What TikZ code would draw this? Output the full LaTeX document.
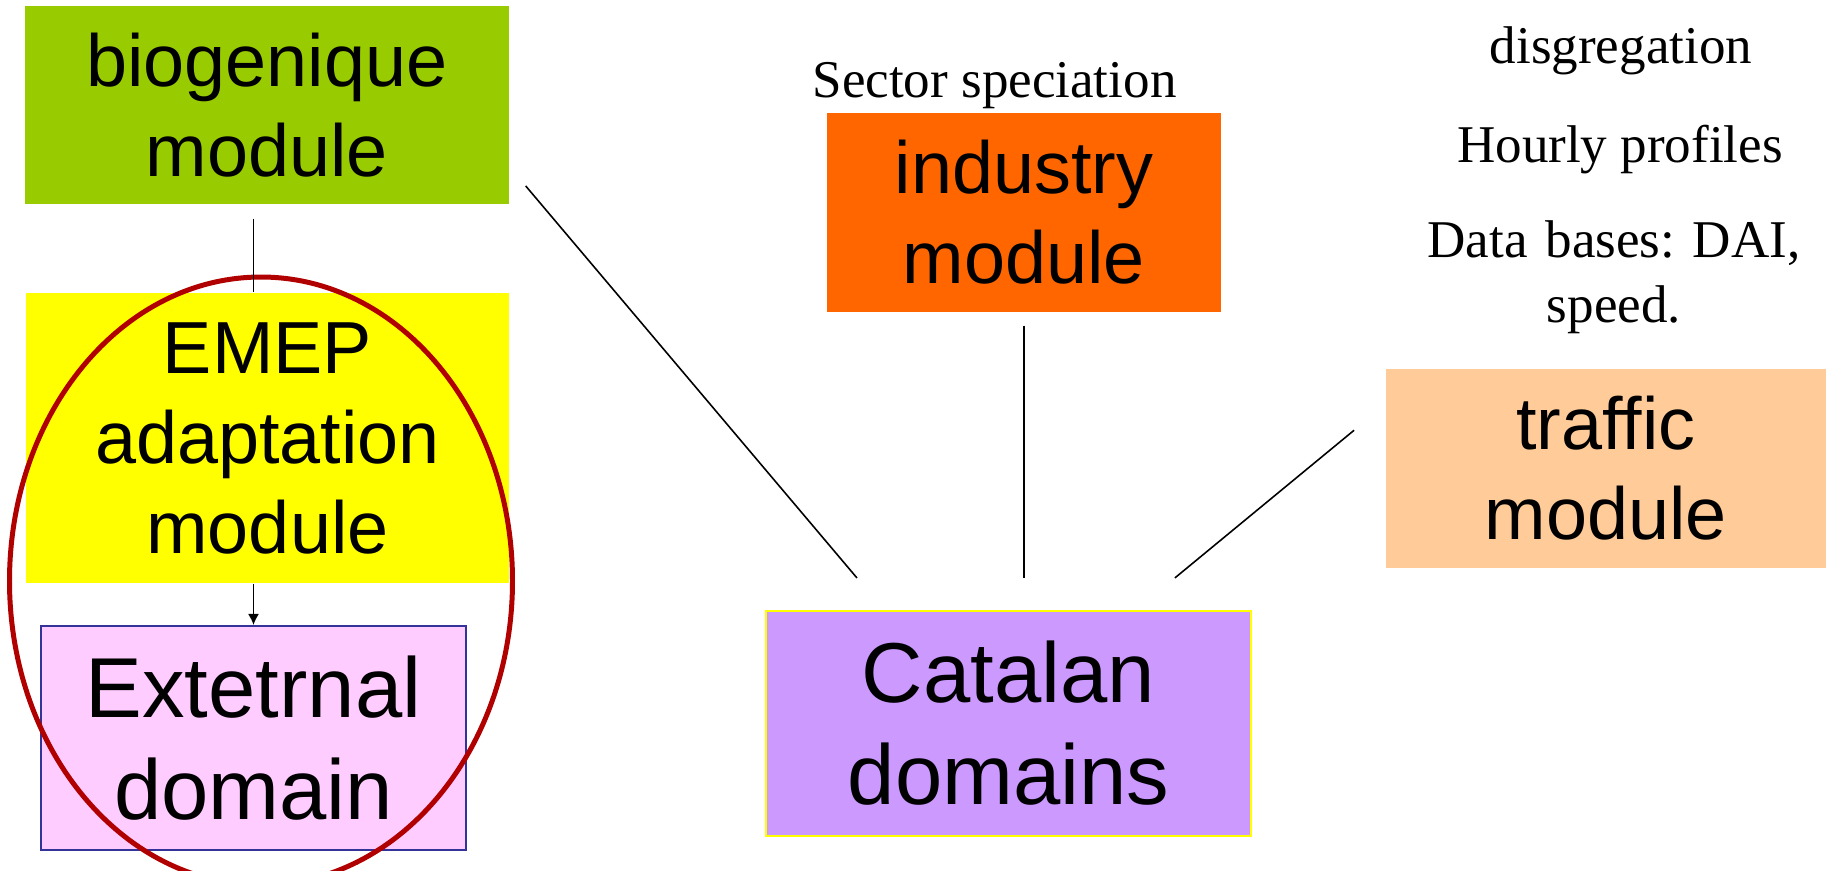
\documentclass[tikz,border=0pt]{standalone}
\usepackage{fontspec}
\setmainfont{Liberation Serif}
\setsansfont{Liberation Sans}
\usetikzlibrary{arrows.meta}
\definecolor{biogreen}{RGB}{153,204,0}
\definecolor{emepyellow}{RGB}{255,255,0}
\definecolor{extpink}{RGB}{255,204,255}
\definecolor{extblue}{RGB}{51,51,153}
\definecolor{indorange}{RGB}{255,102,0}
\definecolor{catviolet}{RGB}{204,153,255}
\definecolor{trafpeach}{RGB}{255,204,153}
\definecolor{ringred}{RGB}{176,0,0}
\tikzset{
    modbox/.style={inner sep=0pt, align=center,
        font=\sffamily\fontsize{21pt}{25.6pt}\selectfont},
    bigbox/.style={modbox,
        font=\sffamily\fontsize{24.2pt}{29pt}\selectfont},
    note/.style={inner sep=0pt,
        font=\rmfamily\frenchspacing\fontsize{15.1pt}{18.5pt}\selectfont},
    link/.style={line width=0.45pt}
}
\begin{document}
\begin{tikzpicture}[x=0.1mm, y=-0.1mm]
    \useasboundingbox (0,0) rectangle (1826,870);
    \clip (0,0) rectangle (1826,870);
    \node[modbox, fill=biogreen, minimum width=48.4mm, minimum height=19.8mm]
        (bio) at (267,105) {biogenique\\module};
    \node[modbox, fill=emepyellow, minimum width=48.3mm, minimum height=29mm]
        (emep) at (267.5,438) {EMEP\\adaptation\\module};
    \node[bigbox, fill=extpink, draw=extblue, line width=0.6pt,
        minimum width=42.5mm, minimum height=22.4mm]
        (ext) at (253.5,738) {Extetrnal\\domain};
    \node[modbox, fill=indorange, minimum width=39.4mm, minimum height=19.9mm]
        (ind) at (1024,212.5) {industry\\module};
    \node[bigbox, fill=catviolet, draw=emepyellow, line width=0.6pt,
        minimum width=48.5mm, minimum height=22.5mm]
        (cat) at (1008.5,723.5) {Catalan\\domains};
    \node[modbox, fill=trafpeach, minimum width=44mm, minimum height=19.9mm]
        (traf) at (1606,468.5) {traffic\\module};
    \draw[ringred, line width=1.42pt] (261,581) ellipse [x radius=25.15mm, y radius=30.4mm];
    \draw[link, shorten <=1.4mm] (bio.south -| ext.north) -- (emep.north -| ext.north);
    \draw[link, -{Latex[length=1.1mm, width=1.1mm]}] (emep.south -| ext.north) -- (ext.north);
    \draw[link, shorten <=2.48mm, shorten >=4.19mm]
        ([yshift=-6.2mm]bio.east) -- ([xshift=-12.45mm]cat.north);
    \draw[link, shorten <=1.3mm, shorten >=3.2mm] (ind.south) -- (ind.south |- cat.north);
    \draw[link, shorten <=4.05mm, shorten >=5.04mm]
        ([yshift=6.4mm]traf.west) -- ([xshift=12.75mm]cat.north);
    \node[note, anchor=base] (sect) at (994.5,97) {Sector speciation};
    \node[note, anchor=base] (disg) at (1621,63) {disgregation};
    \node[note, anchor=base] (hour) at (1620,162) {Hourly profiles};
    \node[note, anchor=base, text width=45mm, align=center]
        (dbase) at (1614,257) {Data bases: DAI,\\speed.};
\end{tikzpicture}
\end{document}
